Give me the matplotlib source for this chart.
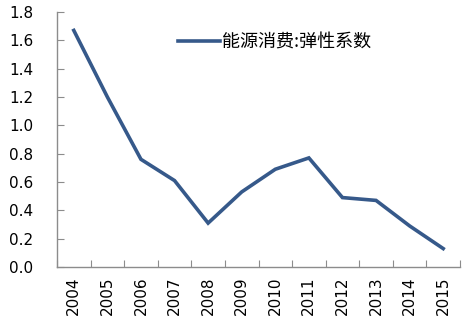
import matplotlib
matplotlib.use("Agg")
import matplotlib.pyplot as plt
import numpy as np

plt.rcParams['font.family'] = ['DejaVu Sans', 'Noto Sans CJK SC']

years = ['2004', '2005', '2006', '2007', '2008', '2009', '2010', '2011', '2012', '2013', '2014', '2015']
values = [1.67, 1.20, 0.76, 0.61, 0.31, 0.53, 0.69, 0.77, 0.49, 0.47, 0.29, 0.13]
series_name = '能源消费:弹性系数'
yticks = [0.0, 0.2, 0.4, 0.6, 0.8, 1.0, 1.2, 1.4, 1.6, 1.8]

fig = plt.figure(figsize=(4.69, 3.23), dpi=100)
ax = fig.add_axes([57/469, 1 - 267/323, (460 - 57)/469, (267 - 12)/323])

x = np.arange(len(years))
ax.plot(x, values, color='#36598A', linewidth=2.6, solid_joinstyle='miter', label=series_name)

ax.set_xlim(-0.5, len(years) - 0.5)
ax.set_ylim(0, 1.8)
ax.set_yticks(yticks)
ax.set_yticklabels([f'{v:.1f}' for v in yticks], fontsize=11)
ax.set_xticks(np.arange(-0.5, len(years), 1.0))
ax.set_xticklabels([])
ax.set_xticks(x, minor=True)
ax.set_xticklabels(years, minor=True, rotation=90, fontsize=11)
ax.tick_params(axis='x', which='minor', length=0, pad=7)
ax.tick_params(axis='x', which='major', direction='in', length=5, color='#8C8C8C')
ax.tick_params(axis='y', direction='in', length=5, color='#8C8C8C', pad=17)

for s in ['top', 'right']:
    ax.spines[s].set_visible(False)
for s in ['left', 'bottom']:
    ax.spines[s].set_color('#8C8C8C')
    ax.spines[s].set_linewidth(1.0)

leg = ax.legend(loc='upper left', bbox_to_anchor=(0.26, 0.98), frameon=False,
                handlelength=2.35, handletextpad=0.1,
                prop={'family': ['Noto Sans CJK SC'], 'size': 13})

fig.savefig('out.png', dpi=100)
